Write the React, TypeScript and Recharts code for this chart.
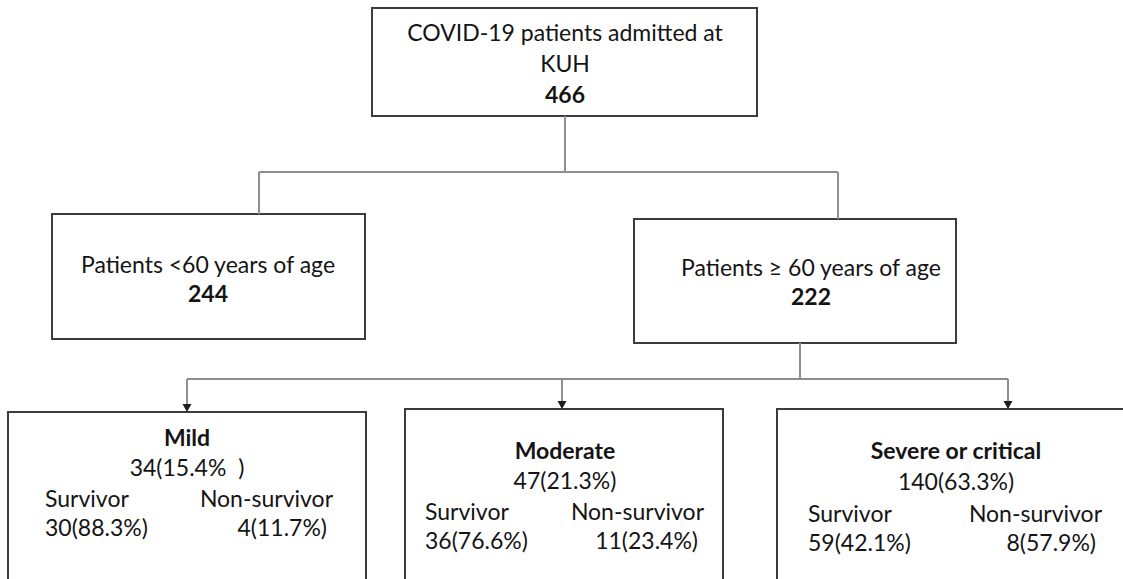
import { ComposedChart, XAxis, YAxis, ReferenceArea, ReferenceLine, Scatter } from 'recharts';

const W = 1123;
const H = 579;

// flow counts
const rootLines = ['COVID-19 patients admitted at', 'KUH'];
const rootCount = 466;
const ageGroups = ['Patients <60 years of age', 'Patients ≥ 60 years of age'];
const ageCounts = [244, 222];
const severityGroups = ['Mild', 'Moderate', 'Severe or critical'];
const severityCounts = [34, 47, 140];
const severityPct = ['15.4%  ', '21.3%', '63.3%'];
const outcomeLabels = ['Survivor', 'Non-survivor'];
const survivorCounts = [30, 36, 59];
const survivorPct = ['88.3%', '76.6%', '42.1%'];
const nonSurvivorCounts = [4, 11, 8];
const nonSurvivorPct = ['11.7%', '23.4%', '57.9%'];

// layout (chart units == pixels)
const rootBox = { x1: 372, y1: 8, x2: 757, y2: 116 };
const ageBoxes = [
  { x1: 52, y1: 214, x2: 365, y2: 339 },
  { x1: 634, y1: 219, x2: 956, y2: 343 },
];
const sevBoxes = [
  { x1: 8, y1: 412, x2: 366, y2: 600 },
  { x1: 405, y1: 409, x2: 723, y2: 600 },
  { x1: 777, y1: 409, x2: 1135, y2: 600 },
];
const connectors = [
  [565, 116, 565, 172],
  [259, 172, 838, 172],
  [259, 172, 259, 214],
  [838, 172, 838, 219],
  [800, 343, 800, 379],
  [187, 379, 1008, 379],
  [187, 379, 187, 410],
  [562, 379, 562, 407],
  [1008, 379, 1008, 407],
];
const arrowTips = [
  { x: 187, y: 412 },
  { x: 562, y: 409 },
  { x: 1008, y: 409 },
];
const ageText = [
  { cx: 208, y: 264 },
  { cx: 811, y: 267 },
];
const sevText = [
  { cx: 187, top: 437, survX: 45, nonX: 333, step: 30, rowGap: 31 },
  { cx: 565, top: 450, survX: 425, nonX: 704, step: 30, rowGap: 31 },
  { cx: 956, top: 450, survX: 808, nonX: 1102, step: 31, rowGap: 31 },
];

type TextItem = { x: number; y: number; text: string; bold?: boolean; anchor?: string };

const texts: TextItem[] = [];
rootLines.forEach((t, i) => texts.push({ x: 565, y: 32 + i * 31, text: t }));
texts.push({ x: 565, y: 94, text: String(rootCount), bold: true });
ageGroups.forEach((g, i) => {
  texts.push({ x: ageText[i].cx, y: ageText[i].y, text: g });
  texts.push({ x: ageText[i].cx, y: ageText[i].y + 29, text: String(ageCounts[i]), bold: true });
});
severityGroups.forEach((g, i) => {
  const l = sevText[i];
  const r1 = l.top + l.step * 2 + 1;
  const r2 = r1 + l.rowGap - 2;
  texts.push({ x: l.cx, y: l.top, text: g, bold: true });
  texts.push({ x: l.cx, y: l.top + l.step, text: `${severityCounts[i]}(${severityPct[i]})` });
  texts.push({ x: l.survX, y: r1, text: outcomeLabels[0], anchor: 'start' });
  texts.push({ x: l.nonX, y: r1, text: outcomeLabels[1], anchor: 'end' });
  texts.push({ x: l.survX, y: r2, text: `${survivorCounts[i]}(${survivorPct[i]})`, anchor: 'start' });
  texts.push({ x: l.nonX - 6, y: r2, text: `${nonSurvivorCounts[i]}(${nonSurvivorPct[i]})`, anchor: 'end' });
});

function TextMark(props: any) {
  const { cx, cy, payload } = props;
  return (
    <text
      x={cx}
      y={cy}
      textAnchor={payload.anchor ?? 'middle'}
      dominantBaseline="central"
      fontFamily="Lato, sans-serif"
      fontSize={23}
      fontWeight={payload.bold ? 700 : 400}
      fill="#141414"
      style={{ whiteSpace: 'pre' }}
    >
      {payload.text}
    </text>
  );
}

function ArrowMark(props: any) {
  const { cx, cy } = props;
  return <path d={`M${cx - 4.5},${cy - 8}L${cx + 4.5},${cy - 8}L${cx},${cy}Z`} fill="#1e1e1e" />;
}

const boxStroke = '#3c3c3c';
const lineStroke = '#8e8e8e';

export default function App() {
  const allBoxes = [rootBox, ...ageBoxes, ...sevBoxes];
  return (
    <div style={{ position: 'absolute', left: 0, top: 0, width: W, height: H, background: '#fff' }}>
      <ComposedChart width={W} height={H} margin={{ top: 0, right: 0, bottom: 0, left: 0 }}>
        <XAxis type="number" dataKey="x" domain={[0, W]} hide allowDataOverflow />
        <YAxis type="number" dataKey="y" domain={[0, H]} reversed hide allowDataOverflow />

        {allBoxes.map((b, i) => (
          <ReferenceArea
            key={`b${i}`}
            x1={b.x1}
            x2={b.x2}
            y1={b.y1}
            y2={b.y2}
            fill="#fff"
            fillOpacity={1}
            stroke={boxStroke}
            strokeWidth={2}
            ifOverflow="visible"
          />
        ))}

        {connectors.map(([x1, y1, x2, y2], i) => (
          <ReferenceLine
            key={`c${i}`}
            segment={[{ x: x1, y: y1 }, { x: x2, y: y2 }]}
            stroke={lineStroke}
            strokeWidth={2}
            ifOverflow="visible"
          />
        ))}

        <Scatter data={arrowTips} dataKey="y" shape={ArrowMark} isAnimationActive={false} />
        <Scatter data={texts} dataKey="y" shape={TextMark} isAnimationActive={false} />
      </ComposedChart>
    </div>
  );
}
